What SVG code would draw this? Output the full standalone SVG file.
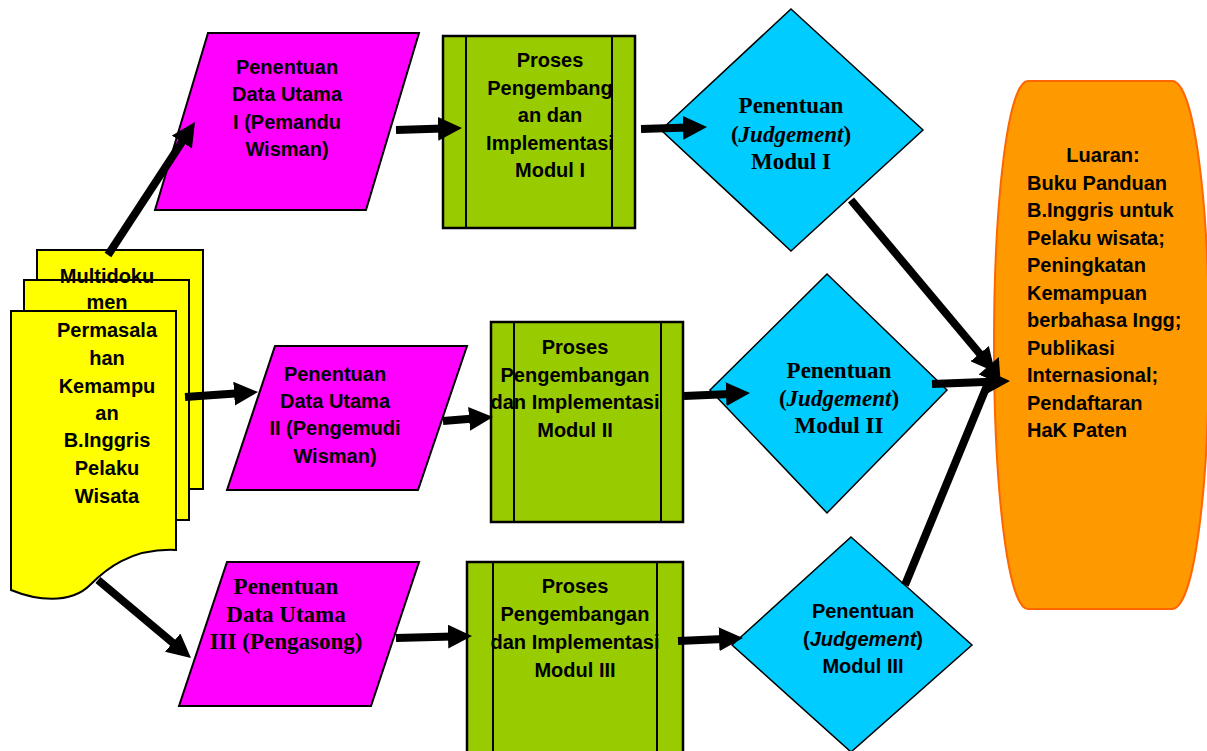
<svg xmlns="http://www.w3.org/2000/svg" width="1207" height="751" viewBox="0 0 1207 751">
<style>
.doc{fill:#FFFF00;stroke:#000;stroke-width:2}
.para{fill:#FF00FF;stroke:#000;stroke-width:2}
.proc{fill:#99CC00;stroke:#000;stroke-width:2.5}
.dec{fill:#00CCFF;stroke:#000;stroke-width:1.5}
.out{fill:#FF9900;stroke:#FF6600;stroke-width:2}
.a{font-family:"Liberation Sans",Arial,sans-serif;font-weight:bold;font-size:20px;fill:#000}
.t{font-family:"Liberation Serif","Times New Roman",serif;font-weight:bold;font-size:23px;fill:#000}
.c{text-anchor:middle}
.conn line{stroke:#000;stroke-width:8;marker-end:url(#ah)}
</style>
<defs>
<marker id="ah" viewBox="0 0 10 10" markerWidth="3" markerHeight="3" refX="2" refY="5" orient="auto" markerUnits="strokeWidth">
<path d="M0,0 L10,5 L0,10 z" fill="#000"/>
</marker>
</defs>
<rect width="1207" height="751" fill="#fff"/>

<g id="multidoc">
<rect class="doc" x="37" y="250" width="166" height="239"/>
<rect class="doc" x="24" y="280" width="165" height="240"/>
<path class="doc" d="M11,311 H176 V550 C130,548 105,570 90,585 C70,605 35,600 11,590 Z"/>
<g class="a c">
<text x="107" y="283">Multidoku</text>
<text x="107" y="309">men</text>
<text x="107" y="337">Permasala</text>
<text x="107" y="365">han</text>
<text x="107" y="393">Kemampu</text>
<text x="107" y="420">an</text>
<text x="107" y="447">B.Inggris</text>
<text x="107" y="475">Pelaku</text>
<text x="107" y="503">Wisata</text>
</g>
</g>

<g id="data1">
<polygon class="para" points="155,210 208,33 419,33 366,210"/>
<g class="a c">
<text x="287" y="74">Penentuan</text>
<text x="287" y="101">Data Utama</text>
<text x="287" y="128.5">I (Pemandu</text>
<text x="287" y="156">Wisman)</text>
</g>
</g>

<g id="data2">
<polygon class="para" points="227,490 275,346 467,346 418,490"/>
<g class="a c">
<text x="335" y="381">Penentuan</text>
<text x="335" y="408">Data Utama</text>
<text x="335" y="435">II (Pengemudi</text>
<text x="335" y="463">Wisman)</text>
</g>
</g>

<g id="data3">
<polygon class="para" points="179,706 227,562 419,562 371,706"/>
<g class="t c">
<text x="286" y="594">Penentuan</text>
<text x="286" y="622">Data Utama</text>
<text x="286" y="649">III (Pengasong)</text>
</g>
</g>

<g id="proc1">
<rect class="proc" x="443" y="36" width="192" height="192"/>
<line x1="466" y1="36" x2="466" y2="228" stroke="#000" stroke-width="2"/>
<line x1="612" y1="36" x2="612" y2="228" stroke="#000" stroke-width="2"/>
<g class="a c">
<text x="550" y="67">Proses</text>
<text x="550" y="94.5">Pengembang</text>
<text x="550" y="122">an dan</text>
<text x="550" y="149.5">Implementasi</text>
<text x="550" y="177">Modul I</text>
</g>
</g>

<g id="proc2">
<rect class="proc" x="491" y="322" width="192" height="200"/>
<line x1="514" y1="322" x2="514" y2="522" stroke="#000" stroke-width="2"/>
<line x1="661" y1="322" x2="661" y2="522" stroke="#000" stroke-width="2"/>
<g class="a c">
<text x="575" y="354">Proses</text>
<text x="575" y="381.5">Pengembangan</text>
<text x="575" y="409">dan Implementasi</text>
<text x="575" y="436.5">Modul II</text>
</g>
</g>

<g id="proc3">
<rect class="proc" x="467" y="562" width="216" height="200"/>
<line x1="493" y1="562" x2="493" y2="762" stroke="#000" stroke-width="2"/>
<line x1="657" y1="562" x2="657" y2="762" stroke="#000" stroke-width="2"/>
<g class="a c">
<text x="575" y="593">Proses</text>
<text x="575" y="621">Pengembangan</text>
<text x="575" y="649">dan Implementasi</text>
<text x="575" y="676.5">Modul III</text>
</g>
</g>

<g id="judge1">
<polygon class="dec" points="791,9 923,130 791,251 661,130"/>
<g class="t c">
<text x="791" y="113">Penentuan</text>
<text x="791" y="141.5">(<tspan font-style="italic">Judgement</tspan>)</text>
<text x="791" y="169">Modul I</text>
</g>
</g>

<g id="judge2">
<polygon class="dec" points="827,274 947,390 827,513 710,390"/>
<g class="t c">
<text x="839" y="377.5">Penentuan</text>
<text x="839" y="406">(<tspan font-style="italic">Judgement</tspan>)</text>
<text x="839" y="433">Modul II</text>
</g>
</g>

<g id="judge3">
<polygon class="dec" points="851,537 972,645 851,752 732,645"/>
<g class="a c">
<text x="863" y="618">Penentuan</text>
<text x="863" y="646">(<tspan font-style="italic">Judgement</tspan>)</text>
<text x="863" y="673">Modul III</text>
</g>
</g>

<g id="luaran">
<path class="out" d="M1028,81 H1172 C1194,81 1209,200 1209,345 C1209,490 1194,609 1172,609 H1028 C1008,609 994,490 994,345 C994,200 1008,81 1028,81 Z"/>
<g class="a">
<text x="1103" y="162" text-anchor="middle">Luaran:</text>
<text x="1027" y="189.5">Buku Panduan</text>
<text x="1027" y="217">B.Inggris untuk</text>
<text x="1027" y="244.5">Pelaku wisata;</text>
<text x="1027" y="272">Peningkatan</text>
<text x="1027" y="299.5">Kemampuan</text>
<text x="1027" y="327">berbahasa Ingg;</text>
<text x="1027" y="354.5">Publikasi</text>
<text x="1027" y="382">Internasional;</text>
<text x="1027" y="409.5">Pendaftaran</text>
<text x="1027" y="437">HaK Paten</text>
</g>
</g>

<g id="connectors" class="conn">
<line x1="108" y1="255" x2="184.5" y2="138.1"/>
<line x1="185" y1="397" x2="238.9" y2="393.3"/>
<line x1="98" y1="580" x2="176.3" y2="645.7"/>
<line x1="396" y1="130" x2="442.8" y2="128.6"/>
<line x1="641" y1="129" x2="687.8" y2="127.6"/>
<line x1="443" y1="421" x2="473.9" y2="418.5"/>
<line x1="684" y1="396" x2="730.8" y2="393.9"/>
<line x1="396" y1="638" x2="452.8" y2="636.5"/>
<line x1="678" y1="641" x2="723.8" y2="638.9"/>
<line x1="851" y1="200" x2="982.7" y2="357.3"/>
<line x1="932" y1="384" x2="990.8" y2="381.7"/>
<line x1="905" y1="585" x2="991.5" y2="374.8"/>
</g>
</svg>
